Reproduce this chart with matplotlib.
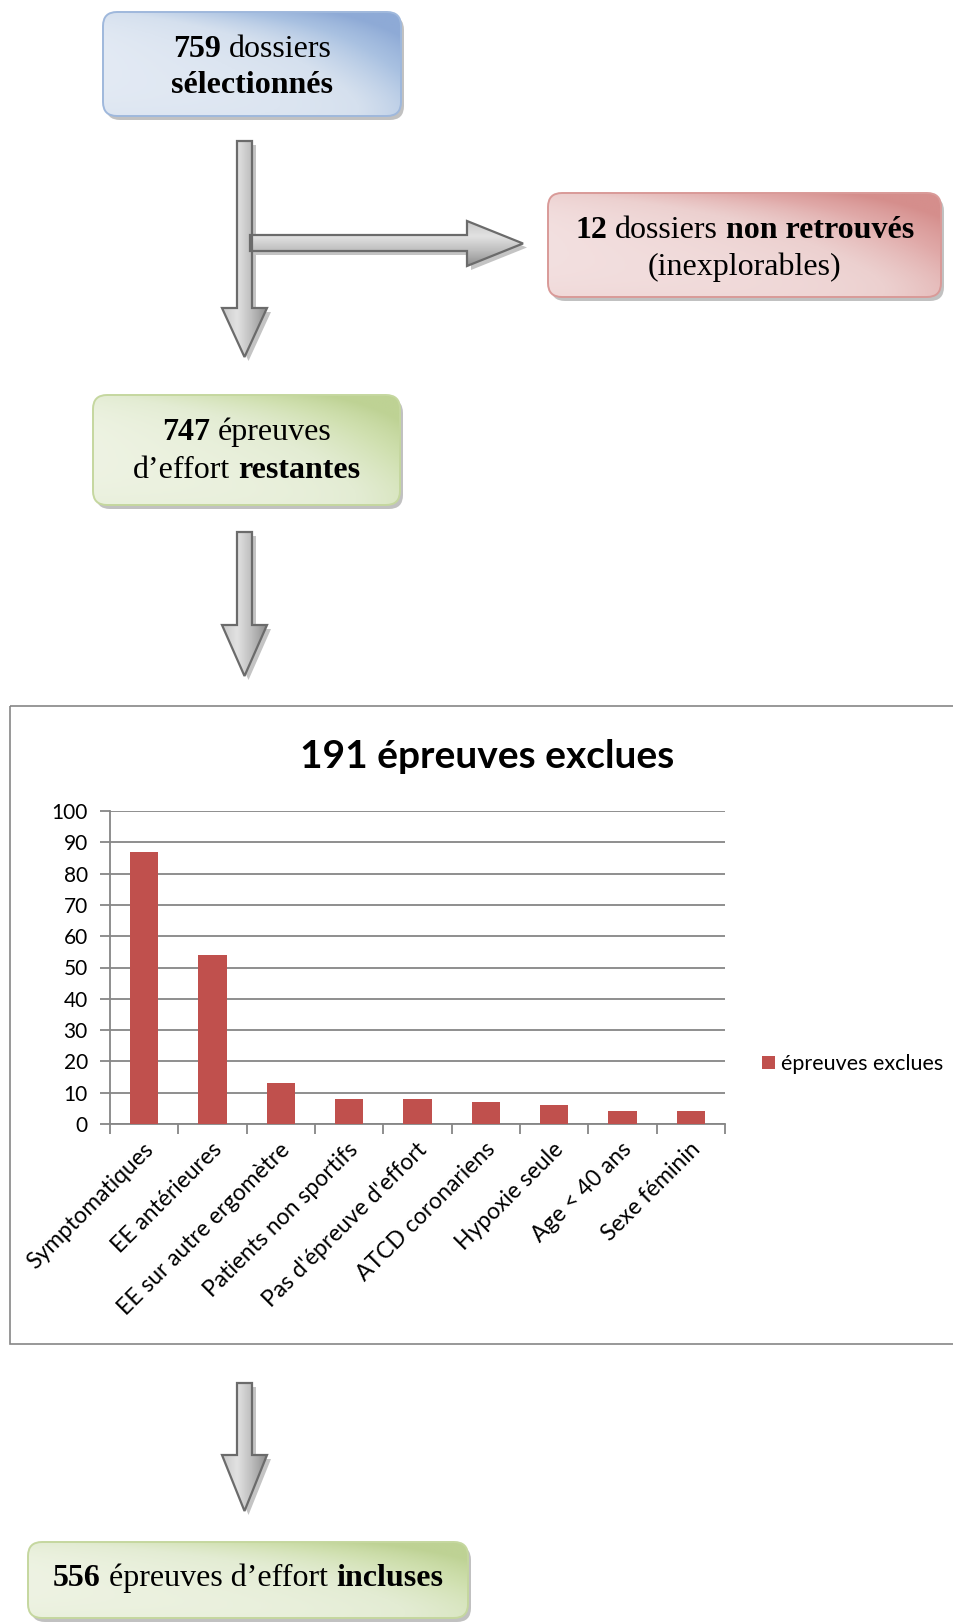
import numpy as np
import matplotlib
matplotlib.use('Agg')
import matplotlib.pyplot as plt
import matplotlib.transforms as mtransforms
from matplotlib.patches import FancyBboxPatch, Polygon, Rectangle
from matplotlib.colors import LinearSegmentedColormap

# chart data
categories = ['Symptomatiques', 'EE antérieures', 'EE sur autre ergomètre',
              'Patients non sportifs', "Pas d'épreuve d'effort", 'ATCD coronariens',
              'Hypoxie seule', 'Age < 40 ans', 'Sexe féminin']
excluded = [87, 54, 13, 8, 8, 7, 6, 4, 4]
y_ticks = list(range(0, 101, 10))
chart_title = '191 épreuves exclues'
series_label = 'épreuves exclues'

# flowchart texts: (text, bold) segments per line
box_selected = [[('759', True), ('dossiers', False)], [('sélectionnés', True)]]
box_missing = [[('12', True), ('dossiers', False), ('non retrouvés', True)],
               [('(inexplorables)', False)]]
box_remaining = [[('747', True), ('épreuves', False)],
                 [('d\u2019effort', False), ('restantes', True)]]
box_included = [[('556', True), ('épreuves d\u2019effort', False), ('incluses', True)]]

W, H = 954, 1623
fig = plt.figure(figsize=(W / 100, H / 100), dpi=100)
flow = fig.add_axes([0, 0, 1, 1])
flow.axis('off')

SERIF = 'Liberation Serif'
SANS = 'Lato'


def gradient_fill(patch, x, y, w, h, colors, field):
    cmap = LinearSegmentedColormap.from_list('g', colors)
    im = flow.imshow(field, cmap=cmap, vmin=0, vmax=1, extent=(x, x + w, y + h, y),
                     origin='upper', aspect='auto', interpolation='bilinear',
                     zorder=patch.get_zorder() - 0.5)
    im.set_clip_path(patch)


def box(x, y, w, h, colors, edge, lines, centers):
    style = 'round,pad=0,rounding_size=14'
    flow.add_patch(FancyBboxPatch((x + 3, y + 4), w, h, boxstyle=style,
                                  fc='#8f8f8f', ec='none', alpha=0.55, zorder=1))
    patch = FancyBboxPatch((x, y), w, h, boxstyle=style, fc='none', ec=edge,
                           lw=1.4, zorder=3)
    flow.add_patch(patch)
    u, v = np.meshgrid(np.linspace(0, 1, 200), np.linspace(0, 1, 100))
    d = np.clip(0.75 * u * (1 - v) + 0.35 * u ** 4 + 0.3 * (1 - v) ** 6 + 0.15 * v ** 6, 0, 1)
    gradient_fill(patch, x, y, w, h, colors, d)
    for segs, cy in zip(lines, centers):
        rich_line(x + w / 2, cy, segs)


def rich_line(cx, cy, segs, size=23):
    renderer = fig.canvas.get_renderer()
    texts, widths = [], []
    for s, bold in segs:
        t = flow.text(0, cy, s, fontsize=size, family=SERIF,
                      weight='bold' if bold else 'normal',
                      ha='left', va='baseline', zorder=6)
        texts.append(t)
        widths.append(t.get_window_extent(renderer).width)
    space = size * 0.25 * fig.dpi / 72
    total = sum(widths) + space * (len(segs) - 1)
    xpos = cx - total / 2
    for t, wd in zip(texts, widths):
        t.set_x(xpos)
        xpos += wd + space


def arrow(pts, horizontal=False):
    pts = np.array(pts, dtype=float)
    flow.add_patch(Polygon(pts + [4, 4], closed=True, fc='#c4c4c4', ec='none', zorder=1))
    poly = Polygon(pts, closed=True, fc='none', ec='#6b6b6b', lw=1.6, zorder=5)
    flow.add_patch(poly)
    x0, y0 = pts.min(axis=0)
    x1, y1 = pts.max(axis=0)
    u, v = np.meshgrid(np.linspace(0, 1, 120), np.linspace(0, 1, 120))
    field = v if horizontal else u
    gradient_fill(poly, x0, y0, x1 - x0, y1 - y0,
                  ['#c9c9c9', '#e2e2e2', '#bdbdbd', '#8e8e8e'], field)


def down_arrow(cx, top, head, tip):
    arrow([(cx - 7.5, top), (cx + 7.5, top), (cx + 7.5, head), (cx + 22.5, head),
           (cx, tip), (cx - 22.5, head), (cx - 7.5, head)])


# flowchart
box(103, 12, 298, 104, ['#e3eaf4', '#d5e0ee', '#a9c1e1', '#8eaad6'], '#9fb8dc',
    box_selected, [57, 93])
down_arrow(244.5, 141, 308, 357)
arrow([(250, 235), (467, 235), (467, 221), (523, 243.5), (467, 266), (467, 251), (250, 251)],
      horizontal=True)
box(548, 193, 393, 104, ['#f3e0e0', '#ecd0cf', '#e0a9a8', '#d58e8c'], '#d99a98',
    box_missing, [238, 275])
box(93, 395, 307, 110, ['#eef3e3', '#e3ecd3', '#d0e0b0', '#bed294'], '#c5d79f',
    box_remaining, [440, 478])
down_arrow(244.5, 532, 625, 676)
down_arrow(244.5, 1383, 1455, 1511)
box(28, 1542, 440, 76, ['#eef3e3', '#e3ecd3', '#d0e0b0', '#bed294'], '#c5d79f',
    box_included, [1586])

# chart frame
flow.add_patch(Rectangle((10, 706), 960, 638, fc='none', ec='#868686', lw=1.2, zorder=2))
flow.set_xlim(0, W)
flow.set_ylim(H, 0)

fig.text(487 / W, 1 - 756 / H, chart_title, ha='center', va='center',
         fontsize=28, weight='bold', family=SANS)

# bar chart
ax = fig.add_axes([110 / W, 1 - 1124 / H, 615 / W, 313 / H])
ax.patch.set_alpha(0)
xpos = np.arange(len(categories))
ax.bar(xpos, excluded, width=0.41, color='#c0504d', label=series_label, zorder=3)
ax.set_xlim(-0.5, len(categories) - 0.5)
ax.set_ylim(0, 100)
ax.set_yticks(y_ticks)
ax.set_yticklabels([str(t) for t in y_ticks], fontsize=15, family=SANS)
ax.grid(axis='y', color='#868686', lw=1.3)
ax.set_axisbelow(True)
for side in ['top', 'right']:
    ax.spines[side].set_visible(False)
for side in ['left', 'bottom']:
    ax.spines[side].set_color('#868686')
    ax.spines[side].set_linewidth(1.3)
ax.tick_params(axis='y', length=7, width=1.3, color='#868686', pad=9)
ax.set_xticks(xpos)
ax.set_xticks(np.arange(-0.5, len(categories)), minor=True)
ax.tick_params(axis='x', which='major', length=0, pad=16)
ax.tick_params(axis='x', which='minor', length=7, width=1.3, color='#868686')
ax.set_xticklabels(categories, rotation=45, ha='right', va='center',
                   rotation_mode='anchor', fontsize=16.5, family=SANS)
shift = mtransforms.ScaledTranslation(6 / 100, 0, fig.dpi_scale_trans)
for lab in ax.get_xticklabels():
    lab.set_transform(lab.get_transform() + shift)

ax.legend(loc='center left', bbox_to_anchor=(762 / W, 1 - 1064 / H),
          bbox_transform=fig.transFigure, frameon=False,
          prop={'family': SANS, 'size': 15.5}, handlelength=0.6, handleheight=0.6,
          handletextpad=0.3, borderpad=0, borderaxespad=0)

fig.savefig('out.png', dpi=100)
